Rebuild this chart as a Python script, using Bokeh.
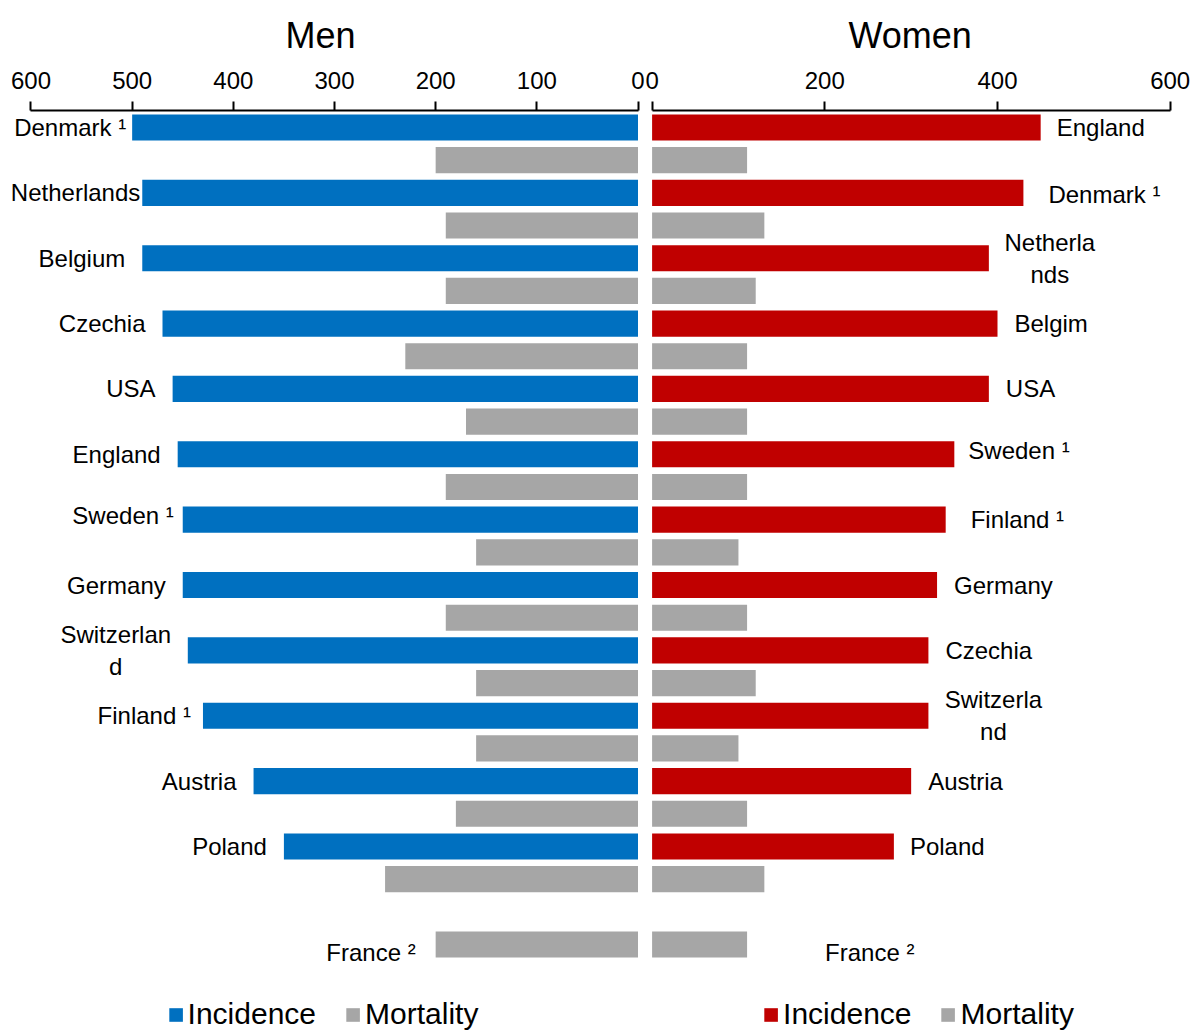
from bokeh.plotting import figure
from bokeh.models import Range1d, FixedTicker, Legend, LegendItem, ColumnDataSource
from bokeh.layouts import row
from bokeh.core.properties import value
from bokeh.embed import file_html
from bokeh.resources import INLINE

# ---------------- data ----------------
men_countries = ["Denmark \u00b9", "Netherlands", "Belgium", "Czechia", "USA", "England",
                 "Sweden \u00b9", "Germany", "Switzerlan\nd", "Finland \u00b9", "Austria", "Poland"]
men_incidence = [500, 490, 490, 470, 460, 455, 450, 450, 445, 430, 380, 350]
men_mortality = [200, 190, 190, 230, 170, 190, 160, 190, 160, 160, 180, 250]

women_countries = ["England", "Denmark \u00b9", "Netherla\nnds", "Belgim", "USA", "Sweden \u00b9",
                   "Finland \u00b9", "Germany", "Czechia", "Switzerla\nnd", "Austria", "Poland"]
women_incidence = [450, 430, 390, 400, 390, 350, 340, 330, 320, 320, 300, 280]
women_mortality = [110, 130, 120, 110, 110, 110, 100, 110, 120, 100, 110, 130]

france_label = "France \u00b2"
france_men_mortality = 200
france_women_mortality = 110

men_ticks = [600, 500, 400, 300, 200, 100, 0]
women_ticks = [0, 200, 400, 600]

# ---------------- styles ----------------
BLUE = "#0070C0"
RED = "#C00000"
GRAY = "#A6A6A6"
FONT = "Liberation Sans"
H = 1031
TOP = 110
BAR_H = 0.8
ROW_PX = 32.68
Y_TOP = -(127 - TOP) / ROW_PX
Y_BOT = 25 + (H - 944) / ROW_PX

n = len(men_countries)
inc_rows = [2 * i for i in range(n)]
mort_rows = [2 * i + 1 for i in range(n)] + [2 * n + 1]

# label pixel offsets (style, not data)
men_label_dx = {"Denmark \u00b9": -6, "Netherlands": -2, "Sweden \u00b9": -9, "Finland \u00b9": -12}
men_label_dy = {"Sweden \u00b9": -4}
women_label_dx = {"England": 16, "Denmark \u00b9": 25, "Sweden \u00b9": 14, "Finland \u00b9": 25, "Poland": 16}
women_label_dy = {"Sweden \u00b9": -4, "Denmark \u00b9": 2}
men_wrap_dx = -72
women_wrap_dx = {"Netherla\nnds": 61, "Switzerla\nnd": 65}


def make_panel(title, countries, incidence, mortality, france_val, color, x_range, width, ticks,
               side, title_offset):
    p = figure(width=width, height=H, x_range=x_range, y_range=Range1d(Y_BOT, Y_TOP),
               output_backend="svg", toolbar_location=None, x_axis_location="above",
               y_axis_location=None, min_border_left=0, min_border_right=0,
               min_border_top=TOP, min_border_bottom=0)
    p.outline_line_color = None
    p.grid.visible = False
    p.background_fill_color = "white"
    p.border_fill_color = "white"

    p.title.text = title
    p.title.align = "left"
    p.title.text_font = FONT
    p.title.text_font_size = "36px"
    p.title.text_font_style = "normal"
    p.title.text_color = "black"
    p.title.standoff = 25
    p.title.offset = title_offset

    ax = p.xaxis[0]
    ax.ticker = FixedTicker(ticks=ticks)
    ax.bounds = (0, 600)
    ax.axis_line_width = 2
    ax.axis_line_color = "black"
    ax.major_tick_line_width = 2
    ax.major_tick_line_color = "black"
    ax.major_tick_out = 9
    ax.major_tick_in = 0
    ax.minor_tick_line_color = None
    ax.major_label_text_font = FONT
    ax.major_label_text_font_size = "24px"
    ax.major_label_text_color = "black"
    ax.major_label_standoff = 13

    inc_src = ColumnDataSource(dict(y=inc_rows, right=incidence, left=[0] * len(incidence)))
    mort_vals = list(mortality) + [france_val]
    mort_src = ColumnDataSource(dict(y=mort_rows, right=mort_vals, left=[0] * len(mort_vals)))
    r_inc = p.hbar(y="y", left="left", right="right", height=BAR_H, source=inc_src,
                   fill_color=color, line_color=None)
    r_mort = p.hbar(y="y", left="left", right="right", height=BAR_H, source=mort_src,
                    fill_color=GRAY, line_color=None)

    # labels
    plain = dict(x=[], y=[], text=[], dx=[], dy=[])
    wrap = dict(x=[], y=[], text=[], dx=[], dy=[])
    for c, v, r in zip(countries, incidence, inc_rows):
        if "\n" in c:
            wrap["x"].append(v); wrap["y"].append(r); wrap["text"].append(c)
            wrap["dx"].append(men_wrap_dx if side == "men" else women_wrap_dx[c])
            wrap["dy"].append(0)
        else:
            plain["x"].append(v); plain["y"].append(r); plain["text"].append(c)
            if side == "men":
                plain["dx"].append(men_label_dx.get(c, -17))
                plain["dy"].append(men_label_dy.get(c, 0))
            else:
                plain["dx"].append(women_label_dx.get(c, 17))
                plain["dy"].append(women_label_dy.get(c, 0))
    plain["x"].append(france_val); plain["y"].append(mort_rows[-1]); plain["text"].append(france_label)
    plain["dx"].append(-20 if side == "men" else 78)
    plain["dy"].append(8)

    p.text(x="x", y="y", text="text", x_offset="dx", y_offset="dy",
           source=ColumnDataSource(plain), text_font=value(FONT), text_font_size="24px",
           text_color="black", text_baseline="middle",
           text_align="right" if side == "men" else "left")
    p.text(x="x", y="y", text="text", x_offset="dx", y_offset="dy",
           source=ColumnDataSource(wrap), text_font=value(FONT), text_font_size="24px",
           text_color="black", text_baseline="middle", text_align="center",
           text_line_height=1.2)

    legend = Legend(items=[LegendItem(label="Incidence", renderers=[r_inc]),
                           LegendItem(label="Mortality", renderers=[r_mort])],
                    orientation="horizontal", location="bottom_center",
                    border_line_color=None, background_fill_alpha=0,
                    padding=0, margin=0, spacing=28, glyph_width=17, glyph_height=17,
                    label_standoff=4, label_text_font=FONT, label_text_font_size="30px",
                    label_text_color="black")
    p.add_layout(legend)
    return p


MEN_W = 645
WOMEN_W = 1191 - MEN_W
men_px = 1.0117
women_px = 0.8635
men_zero = 637.5
women_zero = 651.6 - MEN_W

men_range = Range1d(men_zero / men_px, -(MEN_W - men_zero) / men_px)
women_range = Range1d(-women_zero / women_px, (WOMEN_W - women_zero) / women_px)

p_men = make_panel("Men", men_countries, men_incidence, men_mortality, france_men_mortality,
                   BLUE, men_range, MEN_W, men_ticks, "men", 285)
p_women = make_panel("Women", women_countries, women_incidence, women_mortality,
                     france_women_mortality, RED, women_range, WOMEN_W, women_ticks, "women", 203)

layout = row(p_men, p_women, spacing=0)
open("out.html", "w").write(file_html(layout, INLINE))
